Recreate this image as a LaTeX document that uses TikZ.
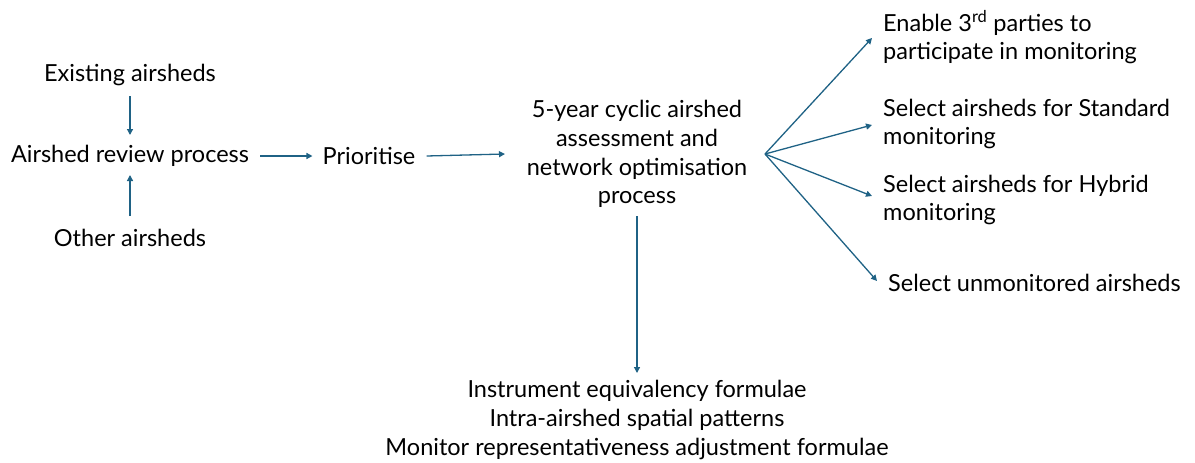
\documentclass[tikz,border=0pt]{standalone}
\usepackage{fontspec}
\setmainfont{Lato}
\usetikzlibrary{arrows.meta}
\definecolor{arr}{RGB}{31,98,133}
\begin{document}
\begin{tikzpicture}[x=1pt,y=-1pt,
  lbl/.style={inner sep=0pt,font=\fontsize{23.5}{28.8}\selectfont,text=black},
  arrowline/.style={draw=arr,line width=1.3pt,-{Triangle[length=6pt,width=6pt]}}]
\useasboundingbox (0,0) rectangle (1195,463);
\node[lbl] (exist) at (130,75) {Existing airsheds};
\node[lbl] (review) at (130,156) {Airshed review process};
\node[lbl] (other) at (130,238) {Other airsheds};
\node[lbl] (prio) at (369,156) {Prioritise};
\node[lbl,align=center] (cyc) at (637,154) {5-year cyclic airshed\\assessment and\\network optimisation\\process};
\coordinate (fan) at (765,154);
\node[lbl,align=left,anchor=west] (n1) at (883,37) {Enable 3\textsuperscript{rd} parties to\\participate in monitoring};
\node[lbl,align=left,anchor=west] (n2) at (883,124) {Select airsheds for Standard\\monitoring};
\node[lbl,align=left,anchor=west] (n3) at (883,200) {Select airsheds for Hybrid\\monitoring};
\node[lbl,anchor=west] (n4) at (888,283) {Select unmonitored airsheds};
\node[lbl,align=center] (out) at (637,420) {Instrument equivalency formulae\\Intra-airshed spatial patterns\\Monitor representativeness adjustment formulae};
\coordinate (outtop) at (637,373);
\draw[arrowline] (130,96) -- (130,135);
\draw[arrowline] (130,216) -- (130,175);
\draw[arrowline] ([xshift=11pt]review.east) -- ([xshift=-10pt]prio.west);
\draw[arrowline] ([xshift=11pt]prio.east) -- (505,154);
\draw[arrowline] (fan) -- (872,38);
\draw[arrowline] (fan) -- (872,125);
\draw[arrowline] (fan) -- (872,196);
\draw[arrowline] (fan) -- (877,281);
\draw[arrowline] (637,216) -- (outtop);
\end{tikzpicture}
\end{document}
